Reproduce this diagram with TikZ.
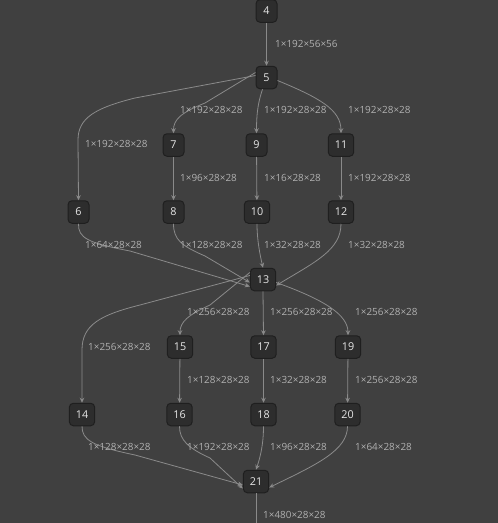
\documentclass[tikz,border=0pt]{standalone}
\usepackage{fontspec}
\setmainfont{Open Sans}
\usetikzlibrary{arrows.meta}
\definecolor{bg}{HTML}{404040}
\definecolor{nodefill}{HTML}{2D2D2D}
\definecolor{nodeline}{HTML}{1F1F1F}
\definecolor{edgecol}{HTML}{8A8A8A}
\definecolor{lblcol}{HTML}{B0B0B0}
\definecolor{txtcol}{HTML}{E6E6E6}
\begin{document}
\begin{tikzpicture}[x=1pt,y=-1pt,
  op/.style={draw=nodeline, line width=1pt, fill=nodefill, rounded corners=4pt,
    minimum width=21pt, minimum height=22.5pt, inner xsep=6.5pt, inner ysep=0pt,
    text=txtcol, font=\fontsize{10.8}{12}\selectfont},
  edge/.style={draw=edgecol, line width=0.8pt, -{Stealth[length=5pt,width=4.5pt]}},
  lbl/.style={anchor=west, text=lblcol, inner sep=0pt, font=\fontsize{9.9}{11}\selectfont}]
\fill[bg] (0,0) rectangle (498,523);
\useasboundingbox (0,0) rectangle (498,523);

\node[op] (n4) at (266.5,11) {4};
\node[op] (n5) at (266.5,77.5) {5};
\node[op] (n6) at (78.5,212) {6};
\node[op] (n7) at (173.5,145) {7};
\node[op] (n8) at (173.5,212) {8};
\node[op] (n9) at (256.5,145) {9};
\node[op] (n10) at (257,212) {10};
\node[op] (n11) at (341,145) {11};
\node[op] (n12) at (341,212) {12};
\node[op] (n13) at (263,279.5) {13};
\node[op] (n14) at (82,414.5) {14};
\node[op] (n15) at (180,347) {15};
\node[op] (n16) at (179.5,414.5) {16};
\node[op] (n17) at (263.5,347) {17};
\node[op] (n18) at (263.5,414.5) {18};
\node[op] (n19) at (348,347) {19};
\node[op] (n20) at (347.5,414.5) {20};
\node[op] (n21) at (256,481.5) {21};
\coordinate (out) at (256,523);

% edges
\draw[edge] (n4) -- (n5);
\draw[edge] ([yshift=2pt]n5.west) -- (135,98) .. controls (95,108) and (78,118) .. (78,140) -- (n6.north);
\draw[edge] ([yshift=5pt]n5.west) -- (205,103) .. controls (180,113) and (173.5,120) .. (n7.north);
\draw[edge] ([xshift=-4pt]n5.south) .. controls (259,100) and (256.5,110) .. (n9.north);
\draw[edge] ([yshift=-3pt]n5.east) .. controls (320,98) and (341,110) .. (n11.north);
\draw[edge] (n7) -- (n8);
\draw[edge] (n9) -- (n10);
\draw[edge] (n11) -- (n12);
\draw[edge] (n6.south) .. controls (78,238) and (88,243) .. (130,251) -- ([yshift=-7pt]n13.west);
\draw[edge] (n8.south) .. controls (173.5,240) and (182,246) .. (205,256) -- ([yshift=-3pt]n13.west);
\draw[edge] (n10.south) .. controls (257,240) and (260,255) .. (n13.north);
\draw[edge] (n12.south) .. controls (341,250) and (315,262) .. ([yshift=-6pt]n13.east);
\draw[edge] ([yshift=4pt]n13.west) -- (140,305) .. controls (100,315) and (82,325) .. (82,350) -- (n14.north);
\draw[edge] ([yshift=7pt]n13.west) -- (210,305) .. controls (188,315) and (180,322) .. (n15.north);
\draw[edge] (n13.south) -- (n17.north);
\draw[edge] ([yshift=-3pt]n13.east) .. controls (325,300) and (348,315) .. (n19.north);
\draw[edge] (n15) -- (n16);
\draw[edge] (n17) -- (n18);
\draw[edge] (n19) -- (n20);
\draw[edge] (n14.south) .. controls (82,440) and (92,446) .. (135,455) -- ([yshift=-3.5pt]n21.west);
\draw[edge] (n16.south) .. controls (179.5,440) and (188,448) .. (210,458) -- ([yshift=-7pt]n21.west);
\draw[edge] (n18.south) .. controls (263.5,445) and (260,458) .. (n21.north);
\draw[edge] (n20.south) .. controls (347.5,450) and (318,464) .. ([yshift=-6pt]n21.east);
\draw[draw=edgecol, line width=0.8pt] (n21.south) -- (out);

% labels
\node[lbl] (l45) at (275,44) {1×192×56×56};
\node[lbl] (l56) at (85,144) {1×192×28×28};
\node[lbl] (l57) at (180,110) {1×192×28×28};
\node[lbl] (l59) at (264,110) {1×192×28×28};
\node[lbl] (l511) at (348,110) {1×192×28×28};
\node[lbl] (l78) at (180,178) {1×96×28×28};
\node[lbl] (l910) at (264,178) {1×16×28×28};
\node[lbl] (l1112) at (348,178) {1×192×28×28};
\node[lbl] (l613) at (85,245) {1×64×28×28};
\node[lbl] (l813) at (180,245) {1×128×28×28};
\node[lbl] (l1013) at (264,245) {1×32×28×28};
\node[lbl] (l1213) at (348,245) {1×32×28×28};
\node[lbl] (l1314) at (88,347) {1×256×28×28};
\node[lbl] (l1315) at (187,312) {1×256×28×28};
\node[lbl] (l1317) at (270,312) {1×256×28×28};
\node[lbl] (l1319) at (355,312) {1×256×28×28};
\node[lbl] (l1516) at (187,380) {1×128×28×28};
\node[lbl] (l1718) at (270,380) {1×32×28×28};
\node[lbl] (l1920) at (355,380) {1×256×28×28};
\node[lbl] (l1421) at (88,447) {1×128×28×28};
\node[lbl] (l1621) at (187,447) {1×192×28×28};
\node[lbl] (l1821) at (270,447) {1×96×28×28};
\node[lbl] (l2021) at (355,447) {1×64×28×28};
\node[lbl] (l21o) at (263,515) {1×480×28×28};
\end{tikzpicture}
\end{document}
